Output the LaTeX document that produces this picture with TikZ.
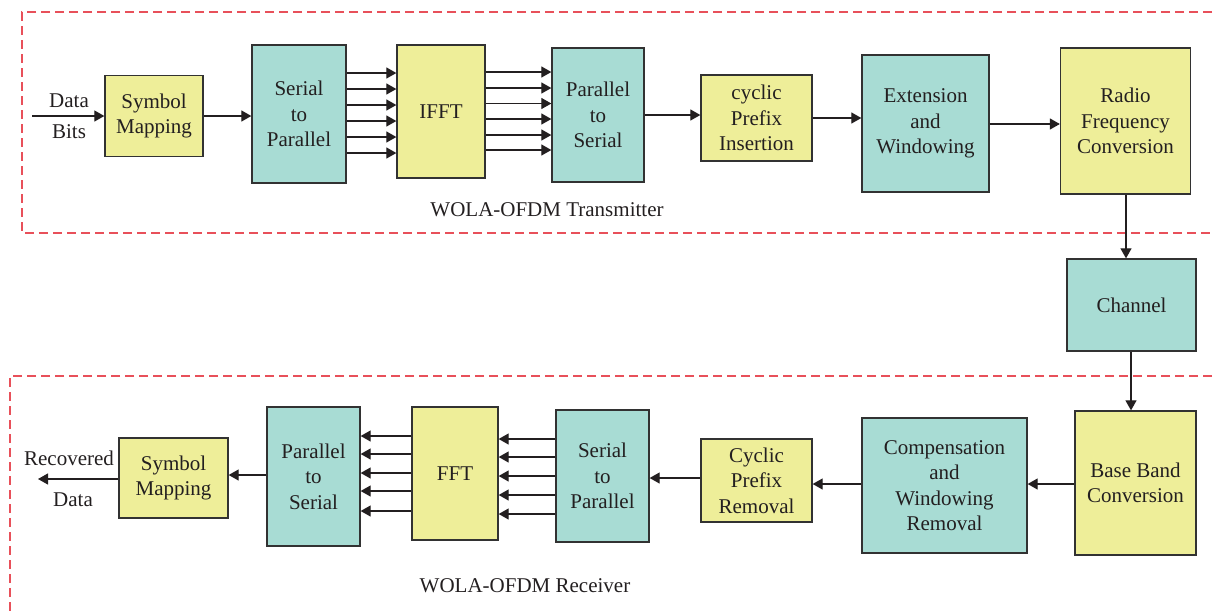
\documentclass[tikz,border=0pt]{standalone}
\usepackage{fontspec}
\setmainfont{Liberation Serif}
\usetikzlibrary{arrows.meta}
\definecolor{ylw}{RGB}{238,238,153}
\definecolor{teal2}{RGB}{168,220,212}
\definecolor{txt}{RGB}{35,31,32}
\definecolor{edge}{RGB}{50,50,50}
\definecolor{dred}{RGB}{232,80,90}
\tikzset{
  blk/.style={draw=edge, line width=1.3pt, inner sep=0pt, align=center, text=txt,
    font=\fontsize{21}{25.5}\selectfont},
  yb/.style={blk, fill=ylw},
  tb/.style={blk, fill=teal2},
  arr/.style={draw=txt, line width=1.2pt, -{Triangle[length=10pt,width=11pt]}},
  lbl/.style={text=txt, inner sep=0pt, font=\fontsize{21}{25.5}\selectfont},
  zone/.style={draw=dred, line width=1.3pt, dash pattern=on 9pt off 5pt},
}
\begin{document}
\begin{tikzpicture}[x=1pt,y=-1pt]
\useasboundingbox (0,0) rectangle (1215,614);
% zones
\draw[zone] (1240,12) -- (22,12) -- (22,233) -- (1240,233);
\draw[zone] (1240,376) -- (10,376) -- (10,640);
% transmitter blocks
\node[yb, minimum width=98, minimum height=81] (sm) at (154,116) {Symbol\\Mapping};
\node[tb, minimum width=94, minimum height=138] (sp) at (299,114) {Serial\\to\\Parallel};
\node[yb, minimum width=88, minimum height=133] (ifft) at (441,111.5) {IFFT};
\node[tb, minimum width=92, minimum height=134] (ps) at (598,115) {Parallel\\to\\Serial};
\node[yb, minimum width=111, minimum height=86] (cpi) at (756.5,118) {cyclic\\Prefix\\Insertion};
\node[tb, minimum width=127, minimum height=137] (ew) at (925.5,123.5) {Extension\\and\\Windowing};
\node[yb, minimum width=130, minimum height=146] (rf) at (1125.5,121) {Radio\\Frequency\\Conversion};
\node[tb, minimum width=129, minimum height=92] (ch) at (1131.5,305) {Channel};
% receiver blocks
\node[yb, minimum width=121, minimum height=144] (bb) at (1135.5,483) {Base Band\\Conversion};
\node[tb, minimum width=165, minimum height=135] (cw) at (944.5,485.5) {Compensation\\and\\Windowing\\Removal};
\node[yb, minimum width=111, minimum height=83] (cpr) at (756.5,480.5) {Cyclic\\Prefix\\Removal};
\node[tb, minimum width=93, minimum height=132] (sp2) at (602.5,476) {Serial\\to\\Parallel};
\node[yb, minimum width=86, minimum height=133] (fft) at (455,473.5) {FFT};
\node[tb, minimum width=93, minimum height=139] (ps2) at (313.5,476.5) {Parallel\\to\\Serial};
\node[yb, minimum width=109, minimum height=80] (sm2) at (173.5,478) {Symbol\\Mapping};
% labels
\node[lbl] (lin1) at (69,101) {Data};
\node[lbl] (lin2) at (69,132) {Bits};
\node[lbl] (lout1) at (69,458) {Recovered};
\node[lbl] (lout2) at (73,500) {Data};
\node[lbl] (ltx) at (547,210) {WOLA-OFDM Transmitter};
\node[lbl] (lrx) at (525,586) {WOLA-OFDM Receiver};
\coordinate (din) at (32,116);
\coordinate (dout) at (38,479);
% transmitter connectors
\draw[arr] (din) -- (sm.west |- din);
\draw[arr] (sm.east |- 0,116) -- (sp.west |- 0,116);
\foreach \y in {73,89,105,121,137,153} \draw[arr] (sp.east |- 0,\y) -- (ifft.west |- 0,\y);
\foreach \y in {72,88,103.5,119,135,150} \draw[arr] (ifft.east |- 0,\y) -- (ps.west |- 0,\y);
\draw[arr] (ps.east |- 0,115) -- (cpi.west |- 0,115);
\draw[arr] (cpi.east |- 0,118) -- (ew.west |- 0,118);
\draw[arr] (ew.east |- 0,124) -- (rf.west |- 0,124);
\draw[arr] (rf.south -| 1126,0) -- (ch.north -| 1126,0);
\draw[arr] (ch.south -| 1131,0) -- (bb.north -| 1131,0);
% receiver connectors
\draw[arr] (bb.west |- 0,484) -- (cw.east |- 0,484);
\draw[arr] (cw.west |- 0,484) -- (cpr.east |- 0,484);
\draw[arr] (cpr.west |- 0,478) -- (sp2.east |- 0,478);
\foreach \y in {439,457,476,495,514} \draw[arr] (sp2.west |- 0,\y) -- (fft.east |- 0,\y);
\foreach \y in {436,454,473,491,511} \draw[arr] (fft.west |- 0,\y) -- (ps2.east |- 0,\y);
\draw[arr] (ps2.west |- 0,475) -- (sm2.east |- 0,475);
\draw[arr] (sm2.west |- dout) -- (dout);
\end{tikzpicture}
\end{document}
